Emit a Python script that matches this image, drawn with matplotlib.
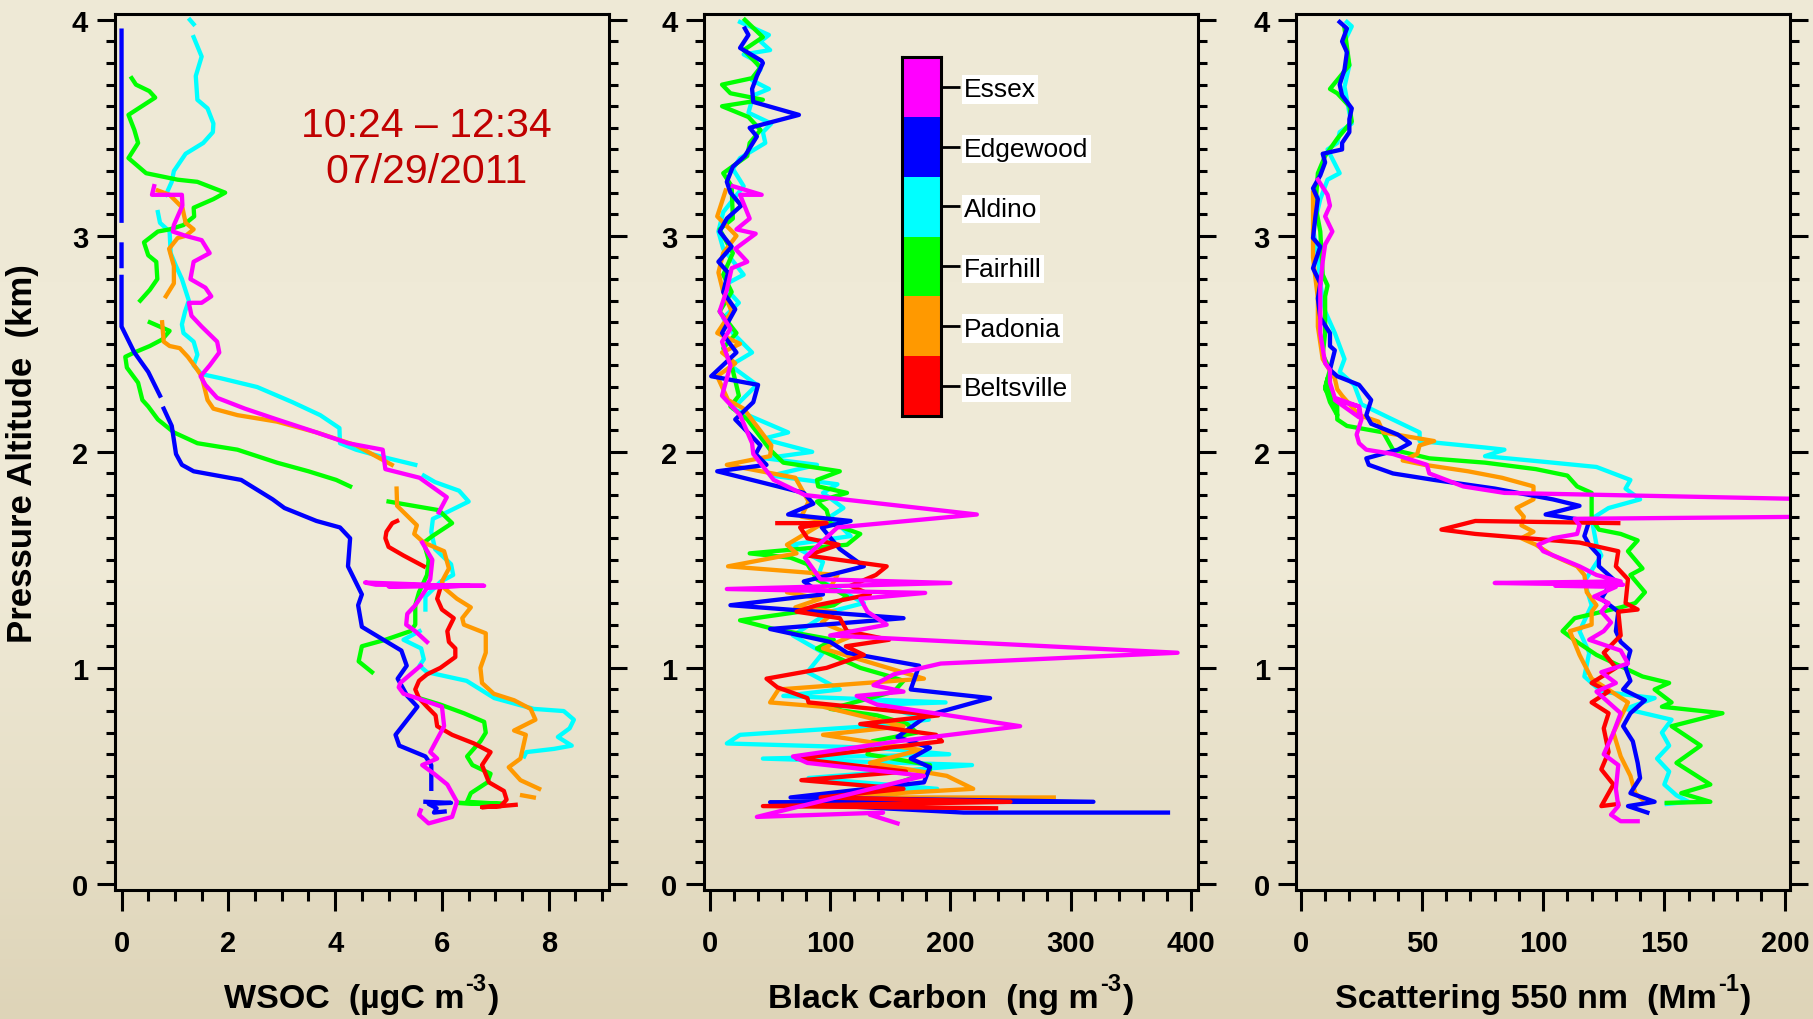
import numpy as np
import matplotlib
matplotlib.use("Agg")
import matplotlib.pyplot as plt
from matplotlib.colors import ListedColormap, LinearSegmentedColormap
from matplotlib.ticker import MultipleLocator

plt.rcParams['font.family'] = ['Liberation Sans', 'DejaVu Sans']

nan = np.nan
G = (nan, nan)  # gap in a profile

sites = ['Essex', 'Edgewood', 'Aldino', 'Fairhill', 'Padonia', 'Beltsville']
colors = {'Essex': '#ff00ff', 'Edgewood': '#0000ff', 'Aldino': '#00ffff',
          'Fairhill': '#00ff00', 'Padonia': '#ff9900', 'Beltsville': '#ff0000'}
draw_order = ['Aldino', 'Fairhill', 'Padonia', 'Edgewood', 'Beltsville', 'Essex']

# ---- WSOC (ugC m-3) vs altitude (km) ----
wsoc_edgewood = [(0, 3.95), (0, 3.07), G, (0, 2.96), (0, 2.86), G, (0, 2.81), (0, 2.58),
                 (0.24, 2.46), (0.50, 2.37), (0.72, 2.26), G, (0.79, 2.20), (0.94, 2.12),
                 (1.02, 1.99), (1.13, 1.94), (1.35, 1.91), (2.24, 1.87), (2.83, 1.78),
                 (3.05, 1.74), (3.65, 1.68), (4.09, 1.65), (4.28, 1.60), (4.24, 1.47),
                 (4.50, 1.34), (4.43, 1.29), (4.50, 1.19), (5.24, 1.08), (5.34, 1.01),
                 (5.17, 0.95), (5.35, 0.87), (5.54, 0.82), (5.13, 0.69), (5.20, 0.64),
                 (5.69, 0.59), (5.80, 0.55), (5.80, 0.44), G, (5.69, 0.38), (6.17, 0.375),
                 (5.75, 0.37), (5.90, 0.35), (5.85, 0.33), (6.05, 0.335)]
wsoc_aldino = [(1.28, 4.00), (1.35, 3.98), G, (1.35, 3.92), (1.50, 3.83), (1.39, 3.74),
               (1.42, 3.63), (1.61, 3.59), (1.72, 3.52), (1.71, 3.48), (1.53, 3.43),
               (1.20, 3.38), (0.98, 3.30), (0.94, 3.25), (0.83, 3.19), G, (0.68, 3.11),
               (0.72, 3.06), (0.90, 3.02), (0.92, 2.92), (1.02, 2.86), (1.13, 2.80),
               (1.26, 2.70), (1.19, 2.65), (1.13, 2.59), (1.16, 2.55), (1.35, 2.51),
               (1.42, 2.45), (1.35, 2.40), (1.50, 2.36), (1.87, 2.34), (2.54, 2.30),
               (3.20, 2.23), (3.72, 2.17), (4.08, 2.11), (4.09, 2.04), (4.39, 2.01),
               (4.83, 1.98), (5.50, 1.94), G, (5.66, 1.89), (5.87, 1.86), (6.32, 1.82),
               (6.50, 1.77), (6.09, 1.72), (5.83, 1.69), (5.80, 1.63), (5.87, 1.55),
               (6.17, 1.48), (6.21, 1.43), (5.98, 1.40), (5.69, 1.33), (5.69, 1.27), G,
               (5.58, 1.17), (5.28, 1.13), (5.61, 1.09), (5.66, 1.04), (5.58, 1.01),
               (5.72, 0.98), (6.46, 0.94), (6.98, 0.86), (7.72, 0.81), (8.28, 0.80),
               (8.47, 0.76), (8.39, 0.72), (8.17, 0.68), (8.43, 0.64), (8.10, 0.625),
               (7.58, 0.61), (7.54, 0.59)]
wsoc_essex = [(0.61, 3.23), (0.57, 3.19), (1.13, 3.19), (1.14, 3.14), (0.98, 3.05),
              (0.96, 3.02), (1.20, 3.00), (1.50, 2.98), (1.65, 2.92), (1.35, 2.88),
              (1.29, 2.80), (1.57, 2.76), (1.68, 2.72), (1.50, 2.69), (1.26, 2.69),
              (1.31, 2.63), (1.50, 2.58), (1.79, 2.51), (1.83, 2.46), (1.65, 2.40),
              (1.48, 2.35), (1.57, 2.31), (1.79, 2.25), (2.31, 2.20), (2.91, 2.15),
              (3.65, 2.09), (4.24, 2.04), (4.89, 2.01), (4.94, 1.92), (5.58, 1.88),
              (6.09, 1.79), (5.94, 1.72), G, (5.63, 1.58), (5.82, 1.50), (5.78, 1.41),
              (5.72, 1.385), (4.56, 1.395), (4.76, 1.385), (6.79, 1.38), (5.00, 1.377),
              (6.50, 1.382), (5.72, 1.37), (5.50, 1.29), (5.35, 1.25), (5.33, 1.20),
              (5.50, 1.17), (5.72, 1.12), G, (5.60, 1.01), (5.22, 0.93), (5.19, 0.91),
              (5.28, 0.88), (5.53, 0.86), (6.00, 0.82), (6.04, 0.73), (5.91, 0.67),
              (5.78, 0.61), (5.91, 0.58), (5.63, 0.55), (5.85, 0.51), (6.10, 0.46),
              (6.28, 0.38), (6.19, 0.31), (5.75, 0.28), (5.57, 0.32), (5.60, 0.34)]
wsoc_padonia = [(0.68, 3.21), (0.90, 3.19), (1.14, 3.13), (1.20, 3.06), (1.35, 3.03),
                (1.20, 3.00), (1.05, 2.99), (0.89, 2.94), (0.98, 2.86), (0.98, 2.78),
                (0.83, 2.72), G, (0.76, 2.60), (0.79, 2.51), (0.90, 2.49), (1.09, 2.48),
                (1.24, 2.44), (1.39, 2.39), (1.50, 2.35), (1.61, 2.24), (1.72, 2.20),
                (2.17, 2.17), (2.91, 2.14), (3.65, 2.09), (4.39, 2.03), (5.06, 1.94), G,
                (5.15, 1.83), (5.16, 1.75), (5.53, 1.66), (5.48, 1.62), (5.66, 1.58),
                (6.04, 1.54), (6.13, 1.46), (6.00, 1.40), (6.04, 1.37), (6.28, 1.32),
                (6.54, 1.28), (6.38, 1.23), (6.41, 1.20), (6.82, 1.16), (6.82, 1.07),
                (6.72, 1.00), (6.75, 0.93), (6.97, 0.88), (7.35, 0.85), (7.66, 0.81),
                (7.75, 0.76), (7.35, 0.71), (7.57, 0.69), (7.47, 0.58), (7.25, 0.54),
                (7.47, 0.48), (7.82, 0.44), G, (7.50, 0.41), (7.72, 0.40)]
wsoc_fairhill = [(0.19, 3.73), (0.27, 3.70), (0.52, 3.67), (0.63, 3.64), (0.13, 3.56),
                 (0.24, 3.49), (0.31, 3.43), (0.13, 3.36), (0.46, 3.29), (1.05, 3.26),
                 (1.42, 3.25), (1.94, 3.20), (1.72, 3.17), (1.35, 3.13), (1.36, 3.09),
                 (1.16, 3.05), (0.90, 3.03), (0.68, 3.02), (0.42, 2.97), (0.50, 2.91),
                 (0.65, 2.88), (0.67, 2.80), (0.53, 2.75), (0.35, 2.70), G, (0.53, 2.60),
                 (0.90, 2.56), (0.76, 2.52), (0.53, 2.49), (0.24, 2.46), (0.07, 2.44),
                 (0.10, 2.39), (0.31, 2.32), (0.39, 2.24), (0.50, 2.21), (0.68, 2.15),
                 (0.98, 2.09), (1.42, 2.04), (2.17, 2.01), (2.91, 1.95), (3.50, 1.91),
                 (4.02, 1.87), (4.28, 1.84), G, (5.00, 1.77), (5.94, 1.73), (6.19, 1.67),
                 (5.82, 1.61), (5.66, 1.58), (5.75, 1.50), (5.72, 1.43), (5.57, 1.35),
                 (5.50, 1.29), (5.50, 1.20), (5.41, 1.17), (4.94, 1.13), (4.50, 1.10),
                 (4.44, 1.03), (4.69, 0.98), G, (5.57, 0.86), (5.97, 0.83), (6.41, 0.79),
                 (6.79, 0.75), (6.82, 0.70), (6.72, 0.66), (6.47, 0.59), (6.57, 0.55),
                 (6.91, 0.51), (6.85, 0.47), (6.54, 0.42), (6.47, 0.38), (7.16, 0.37),
                 (6.28, 0.375), (7.10, 0.366)]
wsoc_beltsville = [(5.16, 1.68), (5.07, 1.67), (4.96, 1.63), (4.94, 1.60), (5.00, 1.56),
                   (5.28, 1.52), (5.66, 1.47), G, (5.97, 1.37), (5.91, 1.32), (6.00, 1.27),
                   (6.22, 1.23), (6.10, 1.17), (6.13, 1.12), (6.25, 1.09), (6.25, 1.05),
                   (5.97, 1.00), (5.72, 0.97), (5.57, 0.94), (5.50, 0.90), (5.57, 0.86),
                   (5.72, 0.82), (5.88, 0.78), (5.91, 0.73), (6.19, 0.69), (6.60, 0.65),
                   (6.91, 0.61), (6.75, 0.55), (6.88, 0.47), (7.16, 0.43), (7.21, 0.39),
                   (7.10, 0.36), (6.75, 0.355), (7.10, 0.36), (7.38, 0.366)]

# ---- Black carbon (ng m-3) vs altitude (km) ----
bc_aldino = [(25, 3.99), (49, 3.93), (42, 3.90), (50, 3.86), (28, 3.84), (38, 3.81),
             (42, 3.77), (35, 3.72), (49, 3.68), (36, 3.65), (32, 3.57), (51, 3.52),
             (44, 3.48), (46, 3.43), (25, 3.36), (19, 3.31), (28, 3.23), (11, 3.11),
             (7, 3.02), (11, 2.94), (28, 2.82), (11, 2.77), (24, 2.69), (11, 2.62),
             (19, 2.55), (35, 2.46), (17, 2.40), (39, 2.31), (19, 2.20), (65, 2.09),
             (44, 2.06), (85, 2.00), (46, 1.97), (89, 1.94), (51, 1.89), (106, 1.85),
             (94, 1.81), (111, 1.74), (100, 1.70), (117, 1.61), (67, 1.57), (94, 1.49),
             (89, 1.41), (108, 1.36), (128, 1.30), (100, 1.26), (69, 1.15), (94, 1.07),
             (81, 0.98), (108, 0.90), (61, 0.87), (196, 0.84), (139, 0.83), (182, 0.76),
             (133, 0.73), (25, 0.69), (14, 0.65), (136, 0.63), (199, 0.60), (44, 0.58),
             (218, 0.55), (82, 0.49), (189, 0.44), (108, 0.42)]
bc_edgewood = [(29, 3.96), (32, 3.93), (25, 3.87), (43, 3.81), (44, 3.80), (39, 3.74),
               (35, 3.68), (36, 3.62), (74, 3.56), (33, 3.50), (39, 3.46), (29, 3.37),
               (19, 3.32), (14, 3.25), (17, 3.20), (26, 3.14), (14, 3.08), (8, 3.02),
               (18, 2.95), (7, 2.88), (15, 2.83), (11, 2.74), (21, 2.66), (10, 2.55),
               (22, 2.46), (1, 2.35), (40, 2.31), (36, 2.23), (21, 2.15), (42, 2.03),
               (38, 1.99), (47, 1.94), (6, 1.91), (78, 1.81), (86, 1.76), (65, 1.71),
               (117, 1.68), (93, 1.65), (108, 1.55), (128, 1.47), (78, 1.40), (94, 1.34),
               (17, 1.29), (161, 1.23), (50, 1.18), (100, 1.12), (114, 1.07), (174, 1.01),
               (167, 0.90), (233, 0.86), (181, 0.78), (156, 0.68), (183, 0.63), (167, 0.58),
               (183, 0.54), (178, 0.47), (67, 0.40), (319, 0.38), (50, 0.378), (211, 0.33),
               (381, 0.33)]
bc_fairhill = [(29, 4.00), (44, 3.92), (28, 3.86), (42, 3.78), (35, 3.73), (10, 3.70),
               (17, 3.66), (44, 3.63), (10, 3.60), (32, 3.55), (42, 3.49), (33, 3.43),
               (31, 3.37), (11, 3.29), (18, 3.23), (19, 3.08), (8, 3.03), (19, 2.92),
               (11, 2.82), (18, 2.74), (8, 2.65), (22, 2.55), (11, 2.48), (18, 2.40),
               (24, 2.26), (17, 2.21), (31, 2.15), (50, 2.01), (61, 1.95), (108, 1.91),
               (89, 1.87), (90, 1.84), (114, 1.81), (89, 1.77), (97, 1.73), (100, 1.67),
               (125, 1.62), (114, 1.57), (33, 1.53), (67, 1.51), (81, 1.48), (89, 1.41),
               (114, 1.33), (103, 1.29), (75, 1.26), (25, 1.22), (53, 1.18), (103, 1.13),
               (89, 1.09), (125, 1.00), (150, 0.96), (161, 0.94), (153, 0.89), (100, 0.81),
               (139, 0.78), (164, 0.74), (172, 0.70), (135, 0.66), (131, 0.60), (183, 0.55),
               (183, 0.52), (153, 0.46), (150, 0.39)]
bc_essex = [(19, 3.23), (43, 3.19), (25, 3.19), (33, 3.08), (22, 3.03), (38, 3.01),
            (21, 2.94), (31, 2.88), (18, 2.85), (14, 2.75), (8, 2.65), (17, 2.57),
            (10, 2.51), (17, 2.40), (10, 2.26), (25, 2.17), (35, 2.04), (36, 1.99),
            (53, 1.87), (79, 1.80), (222, 1.71), (106, 1.65), (79, 1.51), (92, 1.41),
            (200, 1.393), (14, 1.365), (179, 1.347), (125, 1.32), (131, 1.26), (147, 1.20),
            (100, 1.15), (389, 1.07), (192, 1.02), (153, 0.97), (136, 0.92), (161, 0.89),
            (122, 0.87), (139, 0.83), (258, 0.73), (156, 0.66), (69, 0.59), (81, 0.56),
            (178, 0.50), (39, 0.31), (144, 0.33), (133, 0.32), (156, 0.28)]
bc_padonia = [(13, 3.21), (6, 3.09), (22, 3.00), (11, 2.92), (7, 2.83), (11, 2.74),
              (18, 2.65), (6, 2.55), (25, 2.50), (10, 2.46), (21, 2.41), (6, 2.35),
              (15, 2.24), (28, 2.20), (51, 2.03), (50, 1.98), (14, 1.94), (71, 1.88),
              (82, 1.77), (76, 1.70), (97, 1.68), (64, 1.57), (72, 1.53), (15, 1.47),
              (106, 1.43), (101, 1.38), (64, 1.35), (92, 1.32), (71, 1.28), (104, 1.26),
              (93, 1.21), (119, 1.15), (94, 1.09), (178, 0.95), (57, 0.90), (50, 0.84),
              (94, 0.82), (161, 0.73), (94, 0.69), (175, 0.62), (133, 0.56), (197, 0.50),
              (219, 0.44), (92, 0.40), (286, 0.40)]
bc_beltsville = [(56, 1.67), (97, 1.67), (75, 1.65), (81, 1.60), (107, 1.57), (81, 1.52),
                 (147, 1.47), (138, 1.43), (117, 1.38), (133, 1.34), (89, 1.29), (72, 1.26),
                 (108, 1.23), (114, 1.17), (149, 1.13), (113, 1.10), (128, 1.06), (97, 1.00),
                 (47, 0.95), (56, 0.91), (81, 0.86), (82, 0.84), (190, 0.78), (125, 0.74),
                 (188, 0.69), (193, 0.66), (72, 0.58), (163, 0.52), (76, 0.48), (161, 0.44),
                 (92, 0.40), (250, 0.38), (44, 0.36), (238, 0.35)]

# ---- Scattering 550 nm (Mm-1) vs altitude (km) ----
scat_edgewood = [(16, 3.99), (19, 3.96), (17, 3.90), (19, 3.85), (18, 3.77), (16, 3.70),
                 (17, 3.65), (21, 3.59), (20, 3.54), (20, 3.48), (17, 3.43), (17, 3.40),
                 (9, 3.38), (10, 3.34), (8, 3.28), (5, 3.22), (7, 3.17), (6, 3.09),
                 (5, 2.99), (8, 2.95), (5, 2.85), (8, 2.78), (7, 2.71), (8, 2.62),
                 (12, 2.55), (12, 2.49), (14, 2.47), (12, 2.38), (15, 2.35), (24, 2.31),
                 (29, 2.24), (27, 2.17), (29, 2.13), (40, 2.08), (45, 2.04), (40, 2.01),
                 (27, 1.97), (28, 1.94), (38, 1.90), (55, 1.87), (80, 1.83), (104, 1.78),
                 (115, 1.75), (101, 1.71), (113, 1.69), (119, 1.68), (117, 1.61), (119, 1.57),
                 (123, 1.52), (123, 1.47), (129, 1.41), (124, 1.32), (131, 1.26), (130, 1.17),
                 (132, 1.12), (136, 1.08), (134, 1.00), (136, 0.94), (133, 0.90), (142, 0.85),
                 (136, 0.79), (133, 0.73), (137, 0.66), (139, 0.56), (140, 0.49), (136, 0.42),
                 (146, 0.38), (135, 0.36), (143, 0.33)]
scat_aldino = [(19, 3.99), (21, 3.97), (18, 3.90), (20, 3.79), (18, 3.69), (20, 3.57),
               (21, 3.52), (16, 3.48), (15, 3.43), (11, 3.40), (16, 3.29), (11, 3.26),
               (8, 3.17), (5, 3.03), (7, 2.91), (8, 2.78), (10, 2.65), (14, 2.55),
               (18, 2.43), (16, 2.37), (22, 2.31), (25, 2.22), (36, 2.16), (49, 2.09),
               (49, 2.05), (76, 2.02), (84, 2.01), (76, 1.98), (104, 1.95), (122, 1.93),
               (136, 1.87), (134, 1.83), (140, 1.78), (127, 1.74), (120, 1.69), (122, 1.57),
               (124, 1.52), (117, 1.40), (120, 1.29), (115, 1.17), (119, 1.07), (117, 0.96),
               (124, 0.89), (146, 0.86), (134, 0.81), (153, 0.76), (149, 0.70), (152, 0.64),
               (147, 0.58), (152, 0.52), (150, 0.46), (155, 0.41), (160, 0.38), (151, 0.37)]
scat_fairhill = [(18, 3.96), (20, 3.79), (12, 3.68), (15, 3.66), (20, 3.60), (21, 3.53),
                 (15, 3.45), (10, 3.37), (7, 3.29), (6, 3.14), (8, 3.02), (9, 2.82),
                 (11, 2.77), (10, 2.72), (10, 2.55), (9, 2.45), (12, 2.38), (10, 2.30),
                 (12, 2.23), (15, 2.17), (11, 2.34), (10, 2.29), (15, 2.21), (15, 2.15),
                 (19, 2.12), (34, 2.09), (38, 2.01), (53, 1.97), (76, 1.95), (97, 1.92),
                 (110, 1.89), (114, 1.84), (120, 1.81), (120, 1.69), (123, 1.64), (132, 1.62),
                 (139, 1.59), (135, 1.54), (141, 1.46), (136, 1.43), (142, 1.35), (138, 1.30),
                 (132, 1.28), (113, 1.23), (108, 1.17), (114, 1.12), (122, 1.06), (141, 0.96),
                 (152, 0.93), (146, 0.90), (153, 0.84), (149, 0.82), (174, 0.79), (153, 0.73),
                 (165, 0.64), (155, 0.56), (169, 0.46), (157, 0.42), (169, 0.38), (151, 0.375)]
scat_padonia = [(5, 3.20), (5, 3.11), (5, 2.90), (7, 2.71), (7, 2.58), (9, 2.43),
                (14, 2.34), (15, 2.29), (17, 2.26), (24, 2.17), (32, 2.14), (34, 2.09),
                (55, 2.05), (49, 2.03), (48, 1.99), (42, 1.96), (51, 1.94), (69, 1.91),
                (83, 1.88), (96, 1.84), (96, 1.78), (89, 1.74), (92, 1.70), (91, 1.66),
                (96, 1.63), (91, 1.60), (97, 1.57), (104, 1.52), (114, 1.47), (117, 1.43),
                (118, 1.35), (122, 1.29), (120, 1.26), (120, 1.20), (111, 1.17), (115, 1.06),
                (120, 0.95), (135, 0.84), (129, 0.70), (132, 0.59), (136, 0.50), (138, 0.42),
                (141, 0.39)]
scat_essex = [(7, 3.26), (11, 3.19), (12, 3.14), (10, 3.09), (13, 3.02), (10, 2.96),
              (9, 2.88), (8, 2.77), (8, 2.68), (8, 2.55), (10, 2.41), (12, 2.38),
              (12, 2.32), (14, 2.25), (24, 2.21), (24, 2.16), (14, 2.24), (24, 2.21),
              (25, 2.15), (23, 2.08), (24, 2.04), (27, 2.01), (38, 1.99), (52, 1.94),
              (53, 1.90), (67, 1.84), (84, 1.81), (215, 1.78), (215, 1.70), (113, 1.69),
              (115, 1.66), (114, 1.62), (104, 1.60), (98, 1.57), (100, 1.54), (115, 1.47),
              (122, 1.43), (132, 1.40), (80, 1.393), (97, 1.39), (133, 1.385), (105, 1.38),
              (130, 1.375), (121, 1.33), (127, 1.30), (124, 1.26), (128, 1.21), (125, 1.17),
              (119, 1.13), (132, 1.08), (135, 1.02), (124, 0.98), (130, 0.93), (122, 0.89),
              (127, 0.84), (132, 0.79), (129, 0.70), (125, 0.60), (131, 0.55), (130, 0.44),
              (131, 0.36), (128, 0.32), (132, 0.29), (139, 0.29)]
scat_beltsville = [(131, 1.67), (72, 1.68), (58, 1.64), (72, 1.62), (115, 1.58), (131, 1.54),
                   (130, 1.47), (135, 1.41), (134, 1.30), (139, 1.27), (131, 1.26), (132, 1.15),
                   (125, 1.07), (130, 1.00), (120, 0.93), (127, 0.89), (120, 0.84), (127, 0.79),
                   (125, 0.72), (127, 0.61), (124, 0.53), (129, 0.46), (124, 0.36), (131, 0.37)]

panels = [
    dict(data={'Essex': wsoc_essex, 'Edgewood': wsoc_edgewood, 'Aldino': wsoc_aldino,
               'Fairhill': wsoc_fairhill, 'Padonia': wsoc_padonia, 'Beltsville': wsoc_beltsville},
         xlim=(-0.13, 9.12), minor=0.5, ticks=[0, 2, 4, 6, 8],
         label=('WSOC  (\u00b5gC m', '-3', ')')),
    dict(data={'Essex': bc_essex, 'Edgewood': bc_edgewood, 'Aldino': bc_aldino,
               'Fairhill': bc_fairhill, 'Padonia': bc_padonia, 'Beltsville': bc_beltsville},
         xlim=(-5, 406), minor=20, ticks=[0, 100, 200, 300, 400],
         label=('Black Carbon  (ng m', '-3', ')')),
    dict(data={'Essex': scat_essex, 'Edgewood': scat_edgewood, 'Aldino': scat_aldino,
               'Fairhill': scat_fairhill, 'Padonia': scat_padonia, 'Beltsville': scat_beltsville},
         xlim=(-1.9, 202), minor=10, ticks=[0, 50, 100, 150, 200],
         label=('Scattering 550 nm  (Mm', '-1', ')')),
]

W, H = 1813, 1020
fig = plt.figure(figsize=(W / 100, H / 100), dpi=100)

# background gradient
bg = fig.add_axes([0, 0, 1, 1], zorder=-10)
grad = LinearSegmentedColormap.from_list('bg', [(0, '#ded4b8'), (0.45, '#f0ebd8'), (1, '#eee9d6')])
bg.imshow(np.linspace(0, 1, 256).reshape(-1, 1), cmap=grad, aspect='auto', origin='lower',
          extent=[0, 1, 0, 1])
bg.axis('off')

lefts = [114.6, 704, 1296.3]
aw, ab, ah = 494 / W, (H - 890.7) / H, 875.7 / H
LFS = 24.5
xlabels = []

for left, p in zip(lefts, panels):
    ax = fig.add_axes([left / W, ab, aw, ah])
    ax.set_facecolor('none')
    for s in draw_order:
        arr = np.array(p['data'][s], dtype=float)
        ax.plot(arr[:, 0], arr[:, 1], color=colors[s], lw=3.1, solid_joinstyle='round')
    ax.set_xlim(*p['xlim'])
    ax.set_ylim(-0.027, 4.027)
    ax.set_xticks(p['ticks'])
    ax.xaxis.set_minor_locator(MultipleLocator(p['minor']))
    ax.set_yticks([0, 1, 2, 3, 4])
    ax.yaxis.set_minor_locator(MultipleLocator(0.1))
    ax.tick_params(axis='both', which='both', direction='out', width=2.2, labelsize=21)
    ax.tick_params(axis='y', which='major', length=13, pad=6, left=True, right=True)
    ax.tick_params(axis='y', which='minor', length=6.5, left=True, right=True)
    ax.tick_params(axis='x', which='major', length=15, pad=13, top=False)
    ax.tick_params(axis='x', which='minor', length=8, top=False)
    for lab in ax.get_xticklabels() + ax.get_yticklabels():
        lab.set_fontweight('bold')
    for sp in ax.spines.values():
        sp.set_linewidth(2.2)

    # axis title with a raised superscript, built from three pieces
    main, sup, tail = p['label']
    t1 = ax.text(0, -0.134, main, transform=ax.transAxes, ha='left', va='baseline',
                 fontsize=LFS, fontweight='bold')
    t2 = ax.annotate(sup, xy=(1, 0), xycoords=t1, xytext=(1, 17), textcoords='offset points',
                     ha='left', va='baseline', fontsize=LFS * 0.7, fontweight='bold')
    t3 = ax.annotate(tail, xy=(1, 0), xycoords=(t2, t1), xytext=(1, 0),
                     textcoords='offset points', ha='left', va='bottom',
                     fontsize=LFS, fontweight='bold')
    xlabels.append((ax, t1, t3))

    if left == lefts[0]:
        ax.text(0.632, 0.847, '10:24 \u2013 12:34\n07/29/2011', transform=ax.transAxes,
                ha='center', va='center', fontsize=29.5, color='#c00000', linespacing=1.25)

fig.text(23 / W, (H - 454) / H, 'Pressure Altitude  (km)', rotation=90, ha='center',
         va='center', fontsize=25, fontweight='bold')

# colour key
lax = fig.add_axes([902 / W, (H - 416.7) / H, 38.7 / W, 358.7 / H])
key_cmap = ListedColormap([colors[s] for s in reversed(sites)])
lax.imshow(np.arange(6).reshape(6, 1), cmap=key_cmap, aspect='auto', origin='lower',
           extent=[0, 1, 0, 6])
lax.set_xticks([])
lax.yaxis.tick_right()
lax.set_yticks(np.arange(6) + 0.5)
lax.set_yticklabels(list(reversed(sites)))
lax.tick_params(axis='y', length=14, width=2, pad=3, labelsize=19)
for t in lax.get_yticklabels():
    t.set_bbox(dict(facecolor='white', edgecolor='none', pad=1.5))
for sp in lax.spines.values():
    sp.set_linewidth(2.2)

# centre each composite axis title under its panel
fig.canvas.draw()
r = fig.canvas.get_renderer()
for ax, t1, t3 in xlabels:
    b1 = t1.get_window_extent(r)
    b3 = t3.get_window_extent(r)
    axb = ax.get_window_extent(r)
    shift_px = (axb.x0 + axb.x1) / 2 - (b1.x0 + b3.x1) / 2
    t1.set_x(t1.get_position()[0] + shift_px / axb.width)

fig.savefig('out.png', dpi=100)
